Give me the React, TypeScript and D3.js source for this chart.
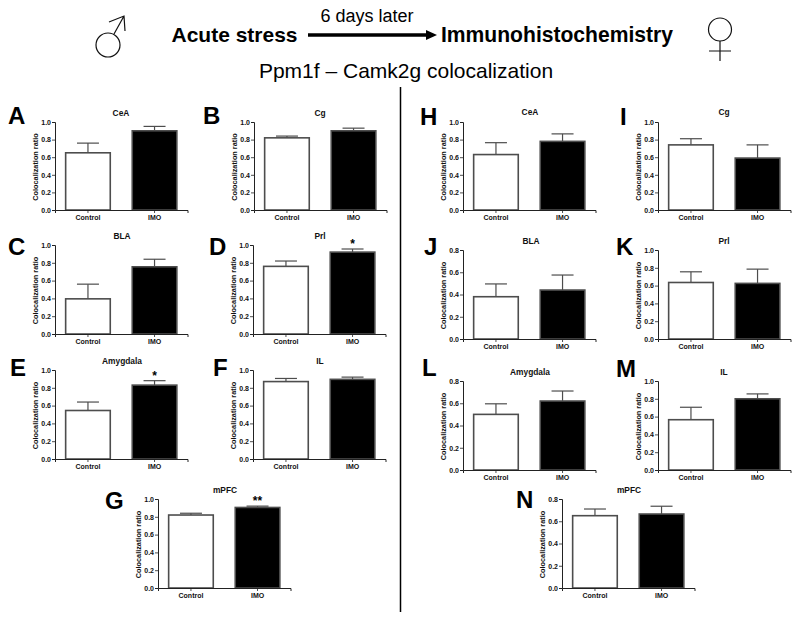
import React, { useEffect, useRef } from 'react';
import * as d3 from 'd3';

// values, panels A..N
const panelLetters = ['A', 'B', 'C', 'D', 'E', 'F', 'G', 'H', 'I', 'J', 'K', 'L', 'M', 'N'];
const regions = ['CeA', 'Cg', 'BLA', 'Prl', 'Amygdala', 'IL', 'mPFC', 'CeA', 'Cg', 'BLA', 'Prl', 'Amygdala', 'IL', 'mPFC'];
const groups = ['Control', 'IMO'];
const controlMeans = [0.65, 0.82, 0.395, 0.76, 0.545, 0.87, 0.82, 0.63, 0.74, 0.38, 0.635, 0.5, 0.565, 0.65];
const controlTops = [0.76, 0.84, 0.56, 0.82, 0.64, 0.905, 0.84, 0.765, 0.81, 0.495, 0.755, 0.595, 0.705, 0.71];
const imoMeans = [0.9, 0.9, 0.755, 0.92, 0.83, 0.895, 0.905, 0.78, 0.59, 0.44, 0.625, 0.62, 0.8, 0.665];
const imoTops = [0.95, 0.93, 0.84, 0.955, 0.88, 0.92, 0.92, 0.865, 0.74, 0.575, 0.785, 0.71, 0.855, 0.735];
const yMaxes = [1, 1, 1, 1, 1, 1, 1, 1, 1, 0.8, 1, 0.8, 1, 0.8];
const stars = ['', '', '', '*', '*', '', '**', '', '', '', '', '', '', ''];

// where each panel sits on the page
const axisX = [55, 254, 55, 253, 55, 253, 158, 463, 658, 463, 658, 463, 658, 562];
const axisTop = [122, 122, 245, 245, 370, 370, 499, 122, 122, 250, 250, 381, 381, 499];
const axisBottom = [210, 210, 334, 334, 459, 459, 588, 210, 210, 339, 339, 470, 470, 588];
const titleX = [121, 320, 122, 320, 122, 320, 225, 530, 724, 531, 724, 530, 724, 629];
const titleY = [116, 116, 239, 239, 364, 364, 493, 115, 115, 244, 244, 375, 375, 493];
const letterX = [8, 203, 8, 209, 10, 213, 105, 420, 620, 424, 616, 422, 616, 516];
const letterY = [124, 124, 255, 255, 376, 376, 509, 125, 125, 255, 255, 376, 377, 508];

const FONT = '"Liberation Sans", Arial, sans-serif';
const PANEL_W = 132.5;
const BAR_STROKE = '#4d4d4d';

const App = () => {
  const svgRef = useRef<SVGSVGElement>(null);

  useEffect(() => {
    const svg = d3.select(svgRef.current);
    svg.selectAll('*').remove();
    svg.style('font-family', FONT);

    // header
    const header = svg.append('g').attr('text-anchor', 'middle').attr('fill', '#000');
    header.append('text').attr('x', 234.5).attr('y', 42).attr('font-size', 21).attr('font-weight', 'bold')
      .attr('textLength', 126).attr('lengthAdjust', 'spacingAndGlyphs').text('Acute stress');
    header.append('text').attr('x', 557).attr('y', 42).attr('font-size', 22).attr('font-weight', 'bold')
      .attr('textLength', 232).attr('lengthAdjust', 'spacingAndGlyphs').text('Immunohistochemistry');
    header.append('text').attr('x', 367).attr('y', 22).attr('font-size', 18).text('6 days later');
    header.append('text').attr('x', 406).attr('y', 78).attr('font-size', 21).text('Ppm1f – Camk2g colocalization');

    // arrow between the two steps
    svg.append('line').attr('x1', 308).attr('x2', 428).attr('y1', 35).attr('y2', 35).attr('stroke', '#000').attr('stroke-width', 3.5);
    svg.append('path').attr('d', 'M426,30L437,35L426,40Z').attr('fill', '#000');

    // male and female symbols
    const symbols = svg.append('g').attr('fill', 'none').attr('stroke', '#111').attr('stroke-width', 1.2);
    symbols.append('circle').attr('cx', 108).attr('cy', 45).attr('r', 12);
    symbols.append('path').attr('d', 'M114,34L124,16M109,22L124,16L125,31');
    symbols.append('circle').attr('cx', 720).attr('cy', 29.5).attr('r', 11.5);
    symbols.append('path').attr('d', 'M720,41V61M709,51H731');

    // divider
    svg.append('line').attr('x1', 400.5).attr('x2', 400.5).attr('y1', 87).attr('y2', 612).attr('stroke', '#000').attr('stroke-width', 1.5);

    panelLetters.forEach((letter, i) => {
      const y = d3.scaleLinear().domain([0, yMaxes[i]]).range([axisBottom[i], axisTop[i]]);
      const x = d3.scaleBand().domain(groups).range([0, PANEL_W]).paddingInner(0.33).paddingOuter(0.16);
      const g = svg.append('g').attr('transform', `translate(${axisX[i]},0)`);
      const means = [controlMeans[i], imoMeans[i]];
      const tops = [controlTops[i], imoTops[i]];

      // error bars first, bars go over them
      const errs = g.append('g').attr('stroke', BAR_STROKE).attr('stroke-width', 1.2);
      groups.forEach((name, k) => {
        const cx = x(name)! + x.bandwidth() / 2;
        errs.append('line').attr('x1', cx).attr('x2', cx).attr('y1', y(means[k])).attr('y2', y(tops[k]));
        errs.append('line').attr('x1', cx - 11).attr('x2', cx + 11).attr('y1', y(tops[k])).attr('y2', y(tops[k]));
      });

      g.selectAll('rect')
        .data(groups)
        .join('rect')
        .attr('x', d => x(d)!)
        .attr('y', (d, k) => y(means[k]))
        .attr('width', x.bandwidth())
        .attr('height', (d, k) => y(0) - y(means[k]))
        .attr('fill', (d, k) => (k === 0 ? '#fff' : '#000'))
        .attr('stroke', BAR_STROKE)
        .attr('stroke-width', 1.6);

      const tickVals = d3.range(0, yMaxes[i] + 0.01, 0.2);
      const yAxis = g.append('g').call(d3.axisLeft(y).tickValues(tickVals).tickSize(3).tickPadding(1).tickFormat(d3.format('.1f') as any));
      const xAxis = g.append('g').attr('transform', `translate(0,${axisBottom[i]})`).call(d3.axisBottom(x).tickSize(3).tickPadding(2));
      [yAxis, xAxis].forEach(a => {
        a.select('.domain').attr('stroke', '#222').attr('stroke-width', 1);
        a.selectAll('.tick line').attr('stroke', '#222').attr('stroke-width', 0.8);
        a.selectAll('text').attr('font-family', FONT).attr('font-size', 7).attr('font-weight', 'bold').attr('fill', '#111');
      });

      g.append('text')
        .attr('transform', `translate(-17.5,${(axisTop[i] + axisBottom[i]) / 2 + 1}) rotate(-90)`)
        .attr('text-anchor', 'middle')
        .attr('font-size', 7.3)
        .attr('font-weight', 'bold')
        .attr('fill', '#111')
        .text('Colocalization ratio');

      svg.append('text')
        .attr('x', titleX[i]).attr('y', titleY[i])
        .attr('text-anchor', 'middle')
        .attr('font-size', 8.4)
        .attr('font-weight', 'bold')
        .attr('fill', '#111')
        .text(regions[i]);

      svg.append('text')
        .attr('x', letterX[i]).attr('y', letterY[i])
        .attr('font-size', 24)
        .attr('font-weight', 'bold')
        .text(letter);

      if (stars[i]) {
        g.append('text')
          .attr('x', x('IMO')! + x.bandwidth() / 2)
          .attr('y', y(imoTops[i]) - 1)
          .attr('text-anchor', 'middle')
          .attr('font-size', 12)
          .attr('font-weight', 'bold')
          .text(stars[i]);
      }
    });
  }, []);

  return <svg ref={svgRef} width={800} height={621} style={{ position: 'absolute', left: 0, top: 0, display: 'block', background: '#fff' }} />;
};

export default App;
